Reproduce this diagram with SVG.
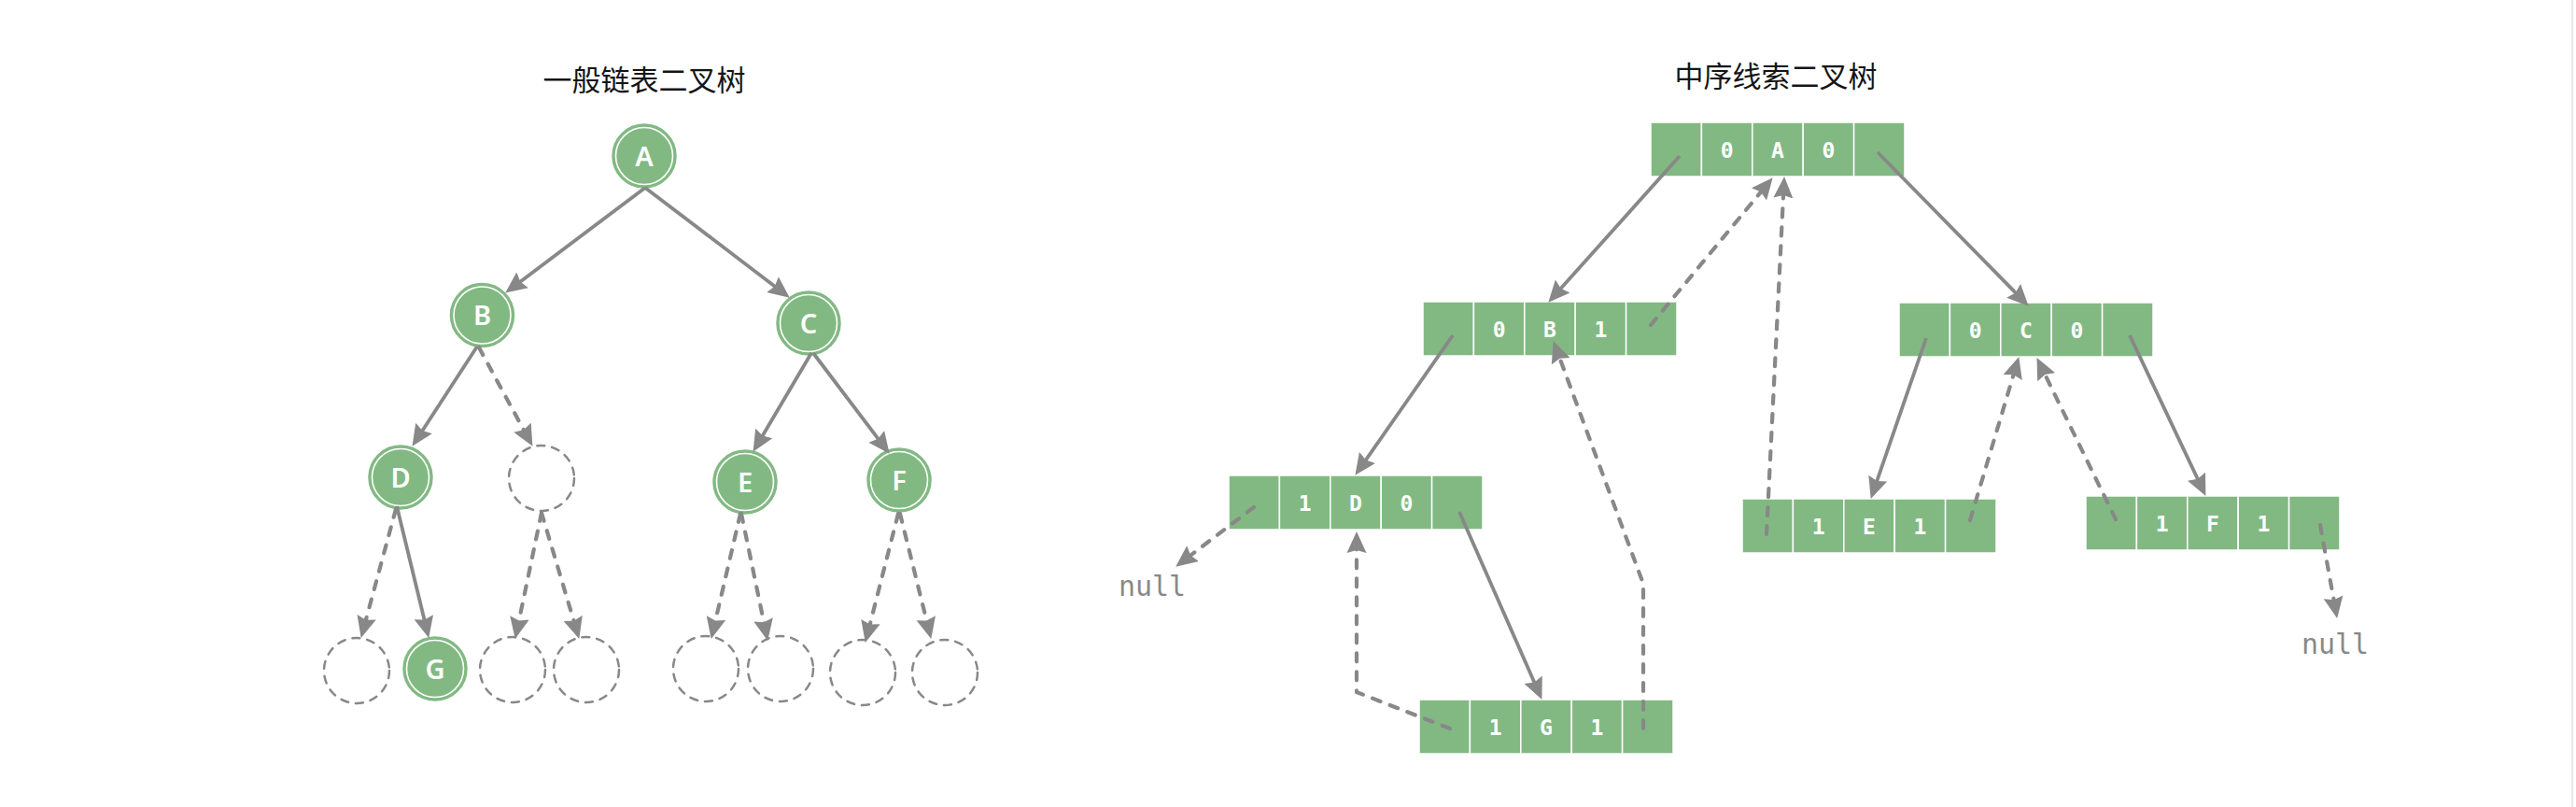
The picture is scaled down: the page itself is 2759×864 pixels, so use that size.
<svg xmlns="http://www.w3.org/2000/svg" width="2759" height="864" viewBox="0 0 2759 864">
<style>
.title{font-family:"Noto Sans CJK SC","Noto Sans",sans-serif;font-size:31px;fill:#151515;text-anchor:middle}
.node{fill:#82b983;stroke:#82b983;stroke-width:1.5}
.ring{fill:none;stroke:#fff;stroke-width:1.6}
.empty{fill:none;stroke:#888;stroke-width:2.5;stroke-dasharray:8 8;stroke-linecap:round}
.lbl{font-family:"Noto Sans","Open Sans",sans-serif;font-size:29px;font-weight:600;fill:#fff;text-anchor:middle}
.cell{fill:#82b983;stroke:#fff;stroke-width:1.5}
.ct{font-family:"DejaVu Sans Mono","Liberation Mono",monospace;font-size:23px;font-weight:bold;fill:#fff;text-anchor:middle}
.null{font-family:"DejaVu Sans Mono","Liberation Mono",monospace;font-size:30px;fill:#888;text-anchor:middle}
.solid{fill:none;stroke:#888;stroke-width:3.8;marker-end:url(#arr)}
.dash{fill:none;stroke:#888;stroke-width:4.2;stroke-dasharray:9 11;stroke-linecap:round;stroke-linejoin:round;marker-end:url(#arr)}
</style>
<defs>
<marker id="arr" markerUnits="userSpaceOnUse" viewBox="0 0 23 22" markerWidth="23" markerHeight="22" refX="16" refY="11" orient="auto">
<path d="M0,0.5 L23,11 L0,21.5 L3,11 z" fill="#888"/>
</marker>
<g id="cells">
<rect class="cell" x="0" y="0" width="54.4" height="58"/>
<rect class="cell" x="54.4" y="0" width="54.4" height="58"/>
<rect class="cell" x="108.8" y="0" width="54.4" height="58"/>
<rect class="cell" x="163.2" y="0" width="54.4" height="58"/>
<rect class="cell" x="217.6" y="0" width="54.4" height="58"/>
</g>
</defs>
<rect x="0" y="0" width="2759" height="864" fill="#fff"/>
<line x1="2755" y1="0" x2="2755" y2="864" stroke="#e8e8e8" stroke-width="2"/>

<text class="title" x="690" y="97">一般链表二叉树</text>
<text class="title" x="1902" y="93">中序线索二叉树</text>

<g id="nA"><circle class="node" cx="690" cy="167" r="34"/><circle class="ring" cx="690" cy="167" r="30.5"/><text class="lbl" x="690" y="177.5">A</text></g>
<g id="nB"><circle class="node" cx="516.5" cy="337.5" r="34"/><circle class="ring" cx="516.5" cy="337.5" r="30.5"/><text class="lbl" x="516.5" y="348">B</text></g>
<g id="nC"><circle class="node" cx="866" cy="346" r="34"/><circle class="ring" cx="866" cy="346" r="30.5"/><text class="lbl" x="866" y="356.5">C</text></g>
<g id="nD"><circle class="node" cx="429" cy="511" r="34"/><circle class="ring" cx="429" cy="511" r="30.5"/><text class="lbl" x="429" y="521.5">D</text></g>
<g id="nE"><circle class="node" cx="798" cy="516" r="34"/><circle class="ring" cx="798" cy="516" r="30.5"/><text class="lbl" x="798" y="526.5">E</text></g>
<g id="nF"><circle class="node" cx="963" cy="514" r="34"/><circle class="ring" cx="963" cy="514" r="30.5"/><text class="lbl" x="963" y="524.5">F</text></g>
<g id="nG"><circle class="node" cx="466" cy="716" r="34"/><circle class="ring" cx="466" cy="716" r="30.5"/><text class="lbl" x="466" y="726.5">G</text></g>
<g id="empties">
<circle class="empty" cx="580" cy="512" r="35"/>
<circle class="empty" cx="382" cy="718" r="35"/>
<circle class="empty" cx="549" cy="717" r="35"/>
<circle class="empty" cx="628" cy="717" r="35"/>
<circle class="empty" cx="756" cy="716" r="35"/>
<circle class="empty" cx="836" cy="716" r="35"/>
<circle class="empty" cx="924" cy="720" r="35"/>
<circle class="empty" cx="1012" cy="720" r="35"/>
</g>

<g id="tA" transform="translate(1768,131)"><use href="#cells"/><text class="ct" x="81.6" y="37.5">0</text><text class="ct" x="136" y="37.5">A</text><text class="ct" x="190.4" y="37.5">0</text></g>
<g id="tB" transform="translate(1524,323)"><use href="#cells"/><text class="ct" x="81.6" y="37.5">0</text><text class="ct" x="136" y="37.5">B</text><text class="ct" x="190.4" y="37.5">1</text></g>
<g id="tC" transform="translate(2034,324)"><use href="#cells"/><text class="ct" x="81.6" y="37.5">0</text><text class="ct" x="136" y="37.5">C</text><text class="ct" x="190.4" y="37.5">0</text></g>
<g id="tD" transform="translate(1316,509)"><use href="#cells"/><text class="ct" x="81.6" y="37.5">1</text><text class="ct" x="136" y="37.5">D</text><text class="ct" x="190.4" y="37.5">0</text></g>
<g id="tE" transform="translate(1866,534)"><use href="#cells"/><text class="ct" x="81.6" y="37.5">1</text><text class="ct" x="136" y="37.5">E</text><text class="ct" x="190.4" y="37.5">1</text></g>
<g id="tF" transform="translate(2234,531)"><use href="#cells"/><text class="ct" x="81.6" y="37.5">1</text><text class="ct" x="136" y="37.5">F</text><text class="ct" x="190.4" y="37.5">1</text></g>
<g id="tG" transform="translate(1520,749)"><use href="#cells"/><text class="ct" x="81.6" y="37.5">1</text><text class="ct" x="136" y="37.5">G</text><text class="ct" x="190.4" y="37.5">1</text></g>

<g id="null1"><text class="null" x="1234" y="638">null</text></g>
<g id="null2"><text class="null" x="2501" y="700">null</text></g>

<g id="connectors">
<path class="solid" d="M691,201 L546.8,309.4"/>
<path class="solid" d="M691,201 L840.2,314.4"/>
<path class="solid" d="M511,371 L445.3,472"/>
<path class="dash" d="M513,372 L567.1,471.7"/>
<path class="solid" d="M869,378 L810.1,477.8"/>
<path class="solid" d="M871,378 L948.4,480.2"/>
<path class="dash" d="M424,545 L388.5,676.2"/>
<path class="solid" d="M425,542 L457.6,676.2"/>
<path class="dash" d="M580,549 L553.2,677.1"/>
<path class="dash" d="M580,549 L618.3,677.2"/>
<path class="dash" d="M793,550 L763.3,677.2"/>
<path class="dash" d="M794,550 L820.8,679.1"/>
<path class="dash" d="M962,550 L928.5,681.2"/>
<path class="dash" d="M964,550 L995.6,677.2"/>

<path class="solid" d="M1799,167 L1663,318.5"/>
<path class="solid" d="M2011,163 L2167.8,322.7"/>
<path class="dash" d="M1768,348 L1894.2,195.6"/>
<path class="solid" d="M1556,359 L1455.4,503.1"/>
<path class="solid" d="M2063,362 L2006,527.3"/>
<path class="solid" d="M2281,359 L2359.4,524.6"/>
<path class="dash" d="M1343,543 L1264.8,602.4"/>
<path class="solid" d="M1563,548 L1648.6,742.5"/>
<path class="dash" d="M1553,780 L1453,741 L1453,576"/>
<path class="dash" d="M1760,780 L1760,625 L1666.1,371.6"/>
<path class="dash" d="M1892,572 L1910.7,196"/>
<path class="dash" d="M2110,557 L2160.3,388.7"/>
<path class="dash" d="M2266,556 L2184.6,389.4"/>
<path class="dash" d="M2485,562 L2501.9,655.1"/>
</g>
</svg>
